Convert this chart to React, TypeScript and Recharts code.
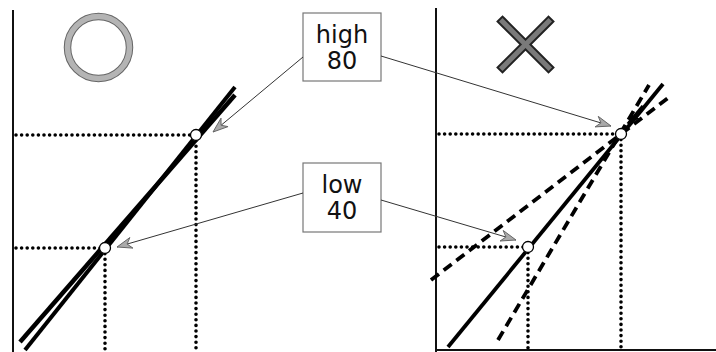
import React from 'react';
import { ComposedChart, Line, XAxis, YAxis, ReferenceLine, ReferenceDot, ReferenceArea } from 'recharts';

// diagram space: x 0..716 left to right, y 0..352 top to bottom
const leftLineA = [{ x: 20, y: 342 }, { x: 235, y: 95 }];
const leftLineB = [{ x: 25, y: 350 }, { x: 235, y: 87 }];
const rightSolid = [{ x: 448, y: 347 }, { x: 663, y: 84 }];
const rightDashShallow = [{ x: 431, y: 280 }, { x: 668, y: 98 }];
const rightDashSteep = [{ x: 498, y: 340 }, { x: 649, y: 85 }];

const leftPoints = [{ x: 196, y: 135 }, { x: 105, y: 248 }];
const rightPoints = [{ x: 621, y: 134 }, { x: 528, y: 247 }];

const axes = [
    { x1: 13, y1: 10, x2: 13, y2: 352 },
    { x1: 436, y1: 8, x2: 436, y2: 352 },
    { x1: 436, y1: 350, x2: 716, y2: 350 },
];
const leftAxisX = 16;
const rightAxisX = 439;
const bottomY = 352;

const boxes = [
    { x1: 303, y1: 13, x2: 381, y2: 81, lines: ['high', '80'] },
    { x1: 303, y1: 163, x2: 381, y2: 232, lines: ['low', '40'] },
];

const arrows = [
    { from: { x: 303, y: 57 }, to: { x: 213, y: 132 } },
    { from: { x: 303, y: 193 }, to: { x: 117, y: 247 } },
    { from: { x: 381, y: 56 }, to: { x: 611, y: 126 } },
    { from: { x: 381, y: 200 }, to: { x: 516, y: 240 } },
];
const blackArrow = { from: { x: 643, y: 106 }, to: { x: 628, y: 124 } };

const okMark = { x: 98.5, y: 47.5 };
const ngMark = { x: 525.5, y: 44.5 };

const FONT = "'DejaVu Sans', 'Noto Sans CJK JP', sans-serif";

function arrowHead(x1: number, y1: number, x2: number, y2: number, len: number, half: number) {
    const a = Math.atan2(y2 - y1, x2 - x1);
    const c = Math.cos(a), s = Math.sin(a);
    const bx = x2 - c * len, by = y2 - s * len;
    const nx = x2 - c * len * 0.7, ny = y2 - s * len * 0.7;
    return `${x2},${y2} ${bx - s * half},${by + c * half} ${nx},${ny} ${bx + s * half},${by - c * half}`;
}

const GrayArrow = (p: any) => (
    <g>
        <line x1={p.x1} y1={p.y1} x2={p.x2} y2={p.y2} stroke="#333" strokeWidth={1} />
        <polygon points={arrowHead(p.x1, p.y1, p.x2, p.y2, 15, 5.5)} fill="#aaa" stroke="#666" strokeWidth={1} />
    </g>
);

const BlackArrow = (p: any) => (
    <g>
        <line x1={p.x1} y1={p.y1} x2={p.x2} y2={p.y2} stroke="#000" strokeWidth={3.5} />
        <polygon points={arrowHead(p.x1, p.y1, p.x2, p.y2, 12, 5.5)} fill="#000" />
    </g>
);

const Dotted = (p: any) => (
    <line x1={p.x1} y1={p.y1} x2={p.x2} y2={p.y2} stroke="#000" strokeWidth={3.6} strokeDasharray="0 5.6" strokeLinecap="round" />
);

const Plain = (p: any) => (
    <line x1={p.x1} y1={p.y1} x2={p.x2} y2={p.y2} stroke="#111" strokeWidth={2} />
);

const makeBox = (lines: string[]) => (p: any) => {
    const cx = p.x + p.width / 2;
    return (
        <g>
            <rect x={p.x} y={p.y} width={p.width} height={p.height} fill="#fff" stroke="#777" strokeWidth={1.2} />
            <text x={cx} y={p.y + 30} textAnchor="middle" fontSize={24} fontFamily={FONT} fill="#111">{lines[0]}</text>
            <text x={cx} y={p.y + 56} textAnchor="middle" fontSize={24} fontFamily={FONT} fill="#111">{lines[1]}</text>
        </g>
    );
};

const RingShape = (p: any) => (
    <g>
        <circle cx={p.cx} cy={p.cy} r={31} fill="none" stroke="#666" strokeWidth={7.5} />
        <circle cx={p.cx} cy={p.cy} r={31} fill="none" stroke="#b4b4b4" strokeWidth={5.5} />
    </g>
);

const CrossShape = (p: any) => {
    const d = 23;
    return (
        <g strokeLinecap="square">
            <line x1={p.cx - d} y1={p.cy - d} x2={p.cx + d} y2={p.cy + d} stroke="#222" strokeWidth={9} />
            <line x1={p.cx + d} y1={p.cy - d} x2={p.cx - d} y2={p.cy + d} stroke="#222" strokeWidth={9} />
            <line x1={p.cx - d} y1={p.cy - d} x2={p.cx + d} y2={p.cy + d} stroke="#7a7a7a" strokeWidth={5} />
            <line x1={p.cx + d} y1={p.cy - d} x2={p.cx - d} y2={p.cy + d} stroke="#7a7a7a" strokeWidth={5} />
        </g>
    );
};

export default function App() {
    return (
        <div style={{ position: 'absolute', left: 0, top: 0, width: 716, height: 352, background: '#fff' }}>
            <ComposedChart width={716} height={352} margin={{ top: 0, right: 0, bottom: 0, left: 0 }}>
                <XAxis type="number" dataKey="x" domain={[0, 716]} hide allowDataOverflow />
                <YAxis type="number" dataKey="y" domain={[0, 352]} reversed hide allowDataOverflow />

                {axes.map((a, i) => (
                    <ReferenceLine key={'ax' + i} segment={[{ x: a.x1, y: a.y1 }, { x: a.x2, y: a.y2 }]} shape={Plain} ifOverflow="visible" />
                ))}

                {leftPoints.map((p, i) => (
                    <ReferenceLine key={'lh' + i} segment={[{ x: leftAxisX, y: p.y }, { x: p.x, y: p.y }]} shape={Dotted} ifOverflow="visible" />
                ))}
                {leftPoints.map((p, i) => (
                    <ReferenceLine key={'lv' + i} segment={[{ x: p.x, y: p.y }, { x: p.x, y: bottomY }]} shape={Dotted} ifOverflow="visible" />
                ))}
                {rightPoints.map((p, i) => (
                    <ReferenceLine key={'rh' + i} segment={[{ x: rightAxisX, y: p.y }, { x: p.x, y: p.y }]} shape={Dotted} ifOverflow="visible" />
                ))}
                {rightPoints.map((p, i) => (
                    <ReferenceLine key={'rv' + i} segment={[{ x: p.x, y: p.y }, { x: p.x, y: bottomY }]} shape={Dotted} ifOverflow="visible" />
                ))}

                <Line data={leftLineA} dataKey="y" type="linear" stroke="#000" strokeWidth={4.5} dot={false} activeDot={false} isAnimationActive={false} />
                <Line data={leftLineB} dataKey="y" type="linear" stroke="#000" strokeWidth={4} dot={false} activeDot={false} isAnimationActive={false} />
                <Line data={rightSolid} dataKey="y" type="linear" stroke="#000" strokeWidth={3.8} dot={false} activeDot={false} isAnimationActive={false} />
                <Line data={rightDashShallow} dataKey="y" type="linear" stroke="#000" strokeWidth={3.8} strokeDasharray="10 6" dot={false} activeDot={false} isAnimationActive={false} />
                <Line data={rightDashSteep} dataKey="y" type="linear" stroke="#000" strokeWidth={3.8} strokeDasharray="10 6" dot={false} activeDot={false} isAnimationActive={false} />

                {boxes.map((b, i) => (
                    <ReferenceArea key={'bx' + i} x1={b.x1} x2={b.x2} y1={b.y1} y2={b.y2} shape={makeBox(b.lines)} ifOverflow="visible" />
                ))}

                {arrows.map((a, i) => (
                    <ReferenceLine key={'ar' + i} segment={[a.from, a.to]} shape={GrayArrow} ifOverflow="visible" />
                ))}
                <ReferenceLine segment={[blackArrow.from, blackArrow.to]} shape={BlackArrow} ifOverflow="visible" />

                {[...leftPoints, ...rightPoints].map((p, i) => (
                    <ReferenceDot key={'pt' + i} x={p.x} y={p.y} r={5.5} fill="#fff" stroke="#000" strokeWidth={1.3} ifOverflow="visible" />
                ))}

                <ReferenceDot x={okMark.x} y={okMark.y} r={31} shape={RingShape} ifOverflow="visible" />
                <ReferenceDot x={ngMark.x} y={ngMark.y} r={26} shape={CrossShape} ifOverflow="visible" />
            </ComposedChart>
        </div>
    );
}
